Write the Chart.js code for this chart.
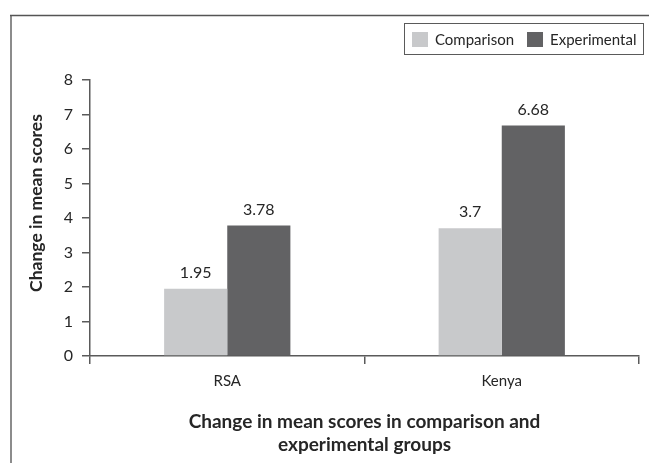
<!DOCTYPE html>
<html><head><meta charset="utf-8">
<script src="https://cdn.jsdelivr.net/npm/chart.js@4.4.1/dist/chart.umd.min.js"></script>
<style>html,body{margin:0;padding:0;background:#fff;overflow:hidden}</style>
</head><body>
<canvas id="c" width="649" height="463"></canvas>
<script>
const categories = ['RSA', 'Kenya'];
const seriesNames = ['Comparison', 'Experimental'];
const comparisonValues = [1.95, 3.7];
const experimentalValues = [3.78, 6.68];
const yTicks = [0, 1, 2, 3, 4, 5, 6, 7, 8];
const yAxisTitle = 'Change in mean scores';
const xAxisTitle = ['Change in mean scores in comparison and', 'experimental groups'];

const FONT = 'Lato';
const TEXT = '#262626';
const AXIS = '#5a5a5a';

const framePlugin = {
  id: 'frame',
  beforeDraw(chart) {
    const ctx = chart.ctx;
    ctx.save();
    ctx.fillStyle = '#fff';
    ctx.fillRect(0, 0, chart.width, chart.height);
    ctx.strokeStyle = '#8c8c8c';
    ctx.lineWidth = 2;
    ctx.beginPath(); ctx.moveTo(11, 15); ctx.lineTo(11, 470); ctx.stroke();
    ctx.strokeStyle = '#555';
    ctx.lineWidth = 1.5;
    ctx.beginPath(); ctx.moveTo(10, 15.5); ctx.lineTo(660, 15.5); ctx.stroke();
    ctx.restore();
  }
};

const legendPlugin = {
  id: 'boxLegend',
  afterDraw(chart) {
    const ctx = chart.ctx;
    ctx.save();
    ctx.strokeStyle = '#5a5a5a';
    ctx.lineWidth = 1;
    ctx.strokeRect(404.5, 23.5, 239, 31);
    ctx.font = '15px ' + FONT;
    ctx.textBaseline = 'middle';
    let x = 412;
    chart.data.datasets.forEach(ds => {
      ctx.fillStyle = ds.backgroundColor;
      ctx.fillRect(x, 32, 16, 15);
      ctx.fillStyle = TEXT;
      ctx.fillText(ds.label, x + 23, 40);
      x += 23 + ctx.measureText(ds.label).width + 13;
    });
    ctx.restore();
  }
};

const yTitlePlugin = {
  id: 'yTitle',
  afterDraw(chart) {
    const ctx = chart.ctx;
    ctx.save();
    ctx.translate(36.5, 203);
    ctx.rotate(-Math.PI / 2);
    ctx.font = 'bold 17.5px ' + FONT;
    ctx.fillStyle = TEXT;
    ctx.textAlign = 'center';
    ctx.textBaseline = 'middle';
    ctx.fillText(yAxisTitle, 0, 0);
    ctx.restore();
  }
};

const valueLabels = {
  id: 'valueLabels',
  afterDatasetsDraw(chart) {
    const ctx = chart.ctx;
    ctx.save();
    ctx.font = '16px ' + FONT;
    ctx.fillStyle = TEXT;
    ctx.textAlign = 'center';
    ctx.textBaseline = 'alphabetic';
    chart.data.datasets.forEach((ds, di) => {
      chart.getDatasetMeta(di).data.forEach((bar, i) => {
        ctx.fillText(String(ds.data[i]), bar.x, bar.y - 11);
      });
    });
    ctx.restore();
  }
};

new Chart(document.getElementById('c'), {
  type: 'bar',
  data: {
    labels: categories,
    datasets: [
      { label: seriesNames[0], data: comparisonValues, backgroundColor: '#c8c9cb' },
      { label: seriesNames[1], data: experimentalValues, backgroundColor: '#626264' }
    ]
  },
  options: {
    responsive: false,
    devicePixelRatio: 1,
    animation: false,
    layout: { padding: { top: 80, right: 10, bottom: 0, left: 0 } },
    datasets: { bar: { categoryPercentage: 0.46, barPercentage: 1.0 } },
    plugins: {
      legend: { display: false },
      tooltip: { enabled: false }
    },
    scales: {
      x: {
        grid: { display: true, drawOnChartArea: false, drawTicks: true, tickLength: 8, color: AXIS, lineWidth: 1.5 },
        border: { display: true, color: AXIS, width: 1.5 },
        ticks: { color: TEXT, font: { family: FONT, size: 15 }, padding: 8 },
        title: {
          display: true, text: xAxisTitle, color: TEXT,
          font: { family: FONT, size: 19, weight: 'bold', lineHeight: 23 / 19 },
          padding: { top: 0, bottom: 6.5 }
        },
        afterFit(axis) { axis.height = 107; }
      },
      y: {
        min: 0, max: 8,
        afterBuildTicks(axis) { axis.ticks = yTicks.map(v => ({ value: v })); },
        grid: { display: true, drawOnChartArea: false, drawTicks: true, tickLength: 8, color: AXIS, lineWidth: 1.5 },
        border: { display: true, color: AXIS, width: 1.5 },
        ticks: { color: TEXT, font: { family: FONT, size: 16 }, padding: 9 },
        title: { display: false, text: yAxisTitle },
        afterFit(axis) { axis.width = 90; }
      }
    }
  },
  plugins: [framePlugin, legendPlugin, yTitlePlugin, valueLabels]
});
</script>
</body></html>
